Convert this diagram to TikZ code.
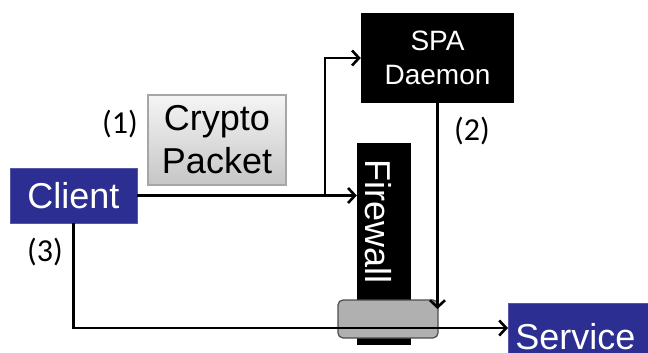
\documentclass[tikz,border=0pt]{standalone}
\usepackage{fontspec}
\setmainfont{Liberation Sans}
\newfontfamily\calib{Carlito}
\usetikzlibrary{arrows.meta}
\definecolor{boxblue}{RGB}{44,46,145}
\begin{document}
\begin{tikzpicture}[x=1pt,y=-1pt,
  bluebox/.style={fill=boxblue, draw=boxblue!80!white, line width=0.8pt, text=white, inner sep=0pt, font=\fontsize{36}{43}\selectfont},
  blackbox/.style={fill=black, text=white, inner sep=0pt},
  steplabel/.style={font=\calib\fontsize{32}{38}\selectfont, inner sep=0pt},
  arr/.style={line width=2.6pt, -{Straight Barb[length=7pt,width=15pt]}},
  plain/.style={line width=2.6pt}]
\useasboundingbox (0,0) rectangle (648,353);
\clip (0,0) rectangle (648,353);

\node[bluebox, minimum width=127pt, minimum height=55pt] (client) at (73.5,195.5) {Client};
\node[draw=gray!70, line width=1.2pt, top color=gray!8, bottom color=gray!45, inner sep=0pt,
      minimum width=138pt, minimum height=90pt, align=center,
      font=\fontsize{36}{43}\selectfont] (crypto) at (217,140) {Crypto\\Packet};
\node[blackbox, minimum width=153pt, minimum height=90pt, align=center,
      font=\fontsize{28}{33.5}\selectfont] (spa) at (437.5,58) {SPA\\Daemon};
\node[blackbox, minimum width=54pt, minimum height=202pt] (fw) at (384,244) {};
\node[text=white, rotate=-90, anchor=base, inner sep=0pt,
      font=\fontsize{36}{43}\selectfont] (fwlabel) at (365,222) {Firewall};
\node[fill=gray!62, draw=black!70, line width=1.2pt, rounded corners=5pt,
      minimum width=100pt, minimum height=38pt] (hole) at (388,319) {};
\node[bluebox, anchor=base west, inner xsep=7pt, text height=46pt, text depth=20pt,
      text width=150pt, align=left] (service) at (508,349) {Service};

\node[steplabel] (l1) at (120,124) {(1)};
\node[steplabel] (l2) at (472,131) {(2)};
\node[steplabel] (l3) at (45,252) {(3)};

\coordinate (branch) at (325,195.5);
\coordinate (tip2) at (437.5,309);
\coordinate (c3) at (508,328);

\draw[arr] (client.east) -- (client.east -| fw.west);
\draw[arr] (branch) |- (spa.west);
\draw[arr] (spa.south) -- (tip2);
\draw[arr] (client.south) |- (c3);
\end{tikzpicture}
\end{document}
